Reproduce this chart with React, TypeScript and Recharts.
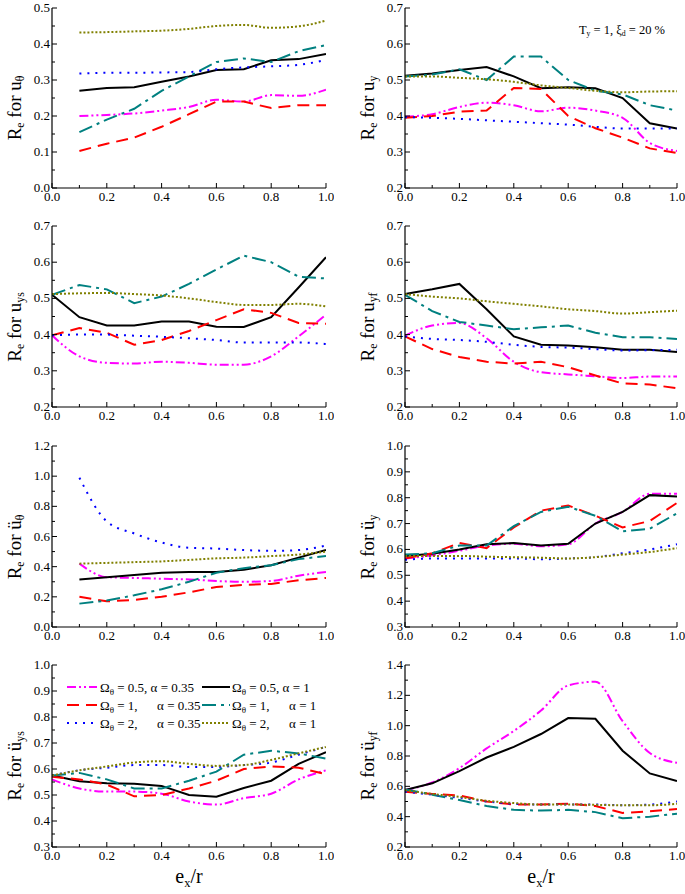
import React from 'react';
import { LineChart, Line, XAxis, YAxis } from 'recharts';

// ---------- x values ----------
const X_FULL = [0, 0.1, 0.2, 0.3, 0.4, 0.5, 0.6, 0.7, 0.8, 0.9, 1.0];
const X_FROM_01 = [0.1, 0.2, 0.3, 0.4, 0.5, 0.6, 0.7, 0.8, 0.9, 1.0];
const X_TICKS = [0, 0.1, 0.2, 0.3, 0.4, 0.5, 0.6, 0.7, 0.8, 0.9, 1.0];

// series order: [Ω=0.5 α=0.35, Ω=0.5 α=1, Ω=1 α=0.35, Ω=1 α=1, Ω=2 α=0.35, Ω=2 α=1]
// ---------- Panel 1: R_e for u_θ ----------
const uTh_m = [0.2, 0.203, 0.207, 0.215, 0.225, 0.245, 0.24, 0.258, 0.256, 0.273];
const uTh_k = [0.27, 0.278, 0.28, 0.295, 0.31, 0.328, 0.33, 0.355, 0.358, 0.372];
const uTh_r = [0.103, 0.123, 0.14, 0.17, 0.205, 0.24, 0.24, 0.222, 0.23, 0.23];
const uTh_t = [0.155, 0.19, 0.22, 0.27, 0.31, 0.35, 0.36, 0.35, 0.38, 0.397];
const uTh_b = [0.318, 0.32, 0.32, 0.321, 0.322, 0.33, 0.335, 0.338, 0.342, 0.356];
const uTh_o = [0.432, 0.433, 0.435, 0.437, 0.442, 0.45, 0.453, 0.445, 0.449, 0.465];

// ---------- Panel 2: R_e for u_y ----------
const uY_m = [0.398, 0.405, 0.425, 0.437, 0.43, 0.413, 0.423, 0.415, 0.395, 0.325, 0.303];
const uY_k = [0.512, 0.518, 0.528, 0.536, 0.51, 0.477, 0.48, 0.477, 0.45, 0.38, 0.365];
const uY_r = [0.395, 0.4, 0.412, 0.415, 0.478, 0.475, 0.4, 0.366, 0.34, 0.31, 0.297];
const uY_t = [0.51, 0.515, 0.53, 0.5, 0.565, 0.565, 0.5, 0.47, 0.46, 0.43, 0.415];
const uY_b = [0.397, 0.395, 0.392, 0.388, 0.384, 0.38, 0.376, 0.37, 0.365, 0.365, 0.365];
const uY_o = [0.51, 0.51, 0.506, 0.502, 0.495, 0.485, 0.478, 0.47, 0.466, 0.468, 0.469];

// ---------- Panel 3: R_e for u_ys ----------
const uYs_m = [0.398, 0.34, 0.322, 0.32, 0.325, 0.322, 0.317, 0.317, 0.34, 0.395, 0.455];
const uYs_k = [0.51, 0.448, 0.425, 0.425, 0.436, 0.436, 0.422, 0.421, 0.448, 0.53, 0.614];
const uYs_r = [0.398, 0.418, 0.405, 0.372, 0.385, 0.41, 0.44, 0.47, 0.46, 0.432, 0.43];
const uYs_t = [0.51, 0.537, 0.525, 0.487, 0.505, 0.54, 0.58, 0.618, 0.6, 0.56, 0.555];
const uYs_b = [0.398, 0.4, 0.4, 0.397, 0.394, 0.39, 0.385, 0.378, 0.378, 0.378, 0.374];
const uYs_o = [0.512, 0.514, 0.515, 0.512, 0.508, 0.5, 0.49, 0.482, 0.482, 0.485, 0.478];

// ---------- Panel 4: R_e for u_yf ----------
const uYf_m = [0.397, 0.425, 0.432, 0.39, 0.325, 0.296, 0.29, 0.285, 0.28, 0.284, 0.284];
const uYf_k = [0.512, 0.525, 0.54, 0.47, 0.395, 0.372, 0.37, 0.365, 0.358, 0.358, 0.352];
const uYf_r = [0.395, 0.36, 0.338, 0.325, 0.32, 0.325, 0.31, 0.287, 0.265, 0.262, 0.252];
const uYf_t = [0.51, 0.465, 0.435, 0.425, 0.415, 0.42, 0.425, 0.405, 0.393, 0.393, 0.388];
const uYf_b = [0.395, 0.388, 0.385, 0.38, 0.372, 0.366, 0.364, 0.36, 0.356, 0.357, 0.358];
const uYf_o = [0.512, 0.505, 0.5, 0.492, 0.485, 0.478, 0.47, 0.465, 0.458, 0.462, 0.466];

// ---------- Panel 5: R_e for ü_θ ----------
const aTh_m = [0.42, 0.33, 0.325, 0.32, 0.315, 0.305, 0.3, 0.305, 0.34, 0.365];
const aTh_k = [0.315, 0.33, 0.345, 0.36, 0.365, 0.365, 0.38, 0.41, 0.46, 0.51];
const aTh_r = [0.2, 0.17, 0.18, 0.2, 0.23, 0.265, 0.28, 0.285, 0.31, 0.325];
const aTh_t = [0.155, 0.175, 0.21, 0.25, 0.3, 0.36, 0.39, 0.41, 0.45, 0.47];
const aTh_b = [0.99, 0.7, 0.62, 0.56, 0.525, 0.52, 0.51, 0.505, 0.51, 0.54];
const aTh_o = [0.42, 0.425, 0.43, 0.435, 0.445, 0.455, 0.46, 0.47, 0.48, 0.5];

// ---------- Panel 6: R_e for ü_y ----------
const aY_m = [0.565, 0.577, 0.595, 0.615, 0.622, 0.612, 0.62, 0.7, 0.745, 0.815, 0.815];
const aY_k = [0.575, 0.583, 0.6, 0.62, 0.625, 0.615, 0.622, 0.7, 0.745, 0.81, 0.805];
const aY_r = [0.565, 0.585, 0.625, 0.605, 0.685, 0.75, 0.77, 0.73, 0.685, 0.71, 0.78];
const aY_t = [0.58, 0.585, 0.615, 0.615, 0.69, 0.745, 0.765, 0.73, 0.67, 0.68, 0.74];
const aY_b = [0.56, 0.565, 0.565, 0.565, 0.565, 0.562, 0.565, 0.57, 0.585, 0.6, 0.62];
const aY_o = [0.575, 0.575, 0.575, 0.572, 0.57, 0.568, 0.565, 0.57, 0.58, 0.59, 0.605];

// ---------- Panel 7: R_e for ü_ys ----------
const aYs_m = [0.56, 0.525, 0.513, 0.513, 0.505, 0.475, 0.463, 0.488, 0.505, 0.56, 0.595];
const aYs_k = [0.575, 0.553, 0.545, 0.543, 0.535, 0.5, 0.493, 0.527, 0.555, 0.62, 0.665];
const aYs_r = [0.57, 0.56, 0.54, 0.495, 0.5, 0.525, 0.555, 0.6, 0.61, 0.605, 0.58];
const aYs_t = [0.575, 0.585, 0.56, 0.525, 0.525, 0.555, 0.59, 0.655, 0.67, 0.66, 0.64];
const aYs_b = [0.575, 0.595, 0.605, 0.615, 0.615, 0.608, 0.608, 0.615, 0.625, 0.655, 0.685];
const aYs_o = [0.575, 0.595, 0.61, 0.625, 0.63, 0.62, 0.612, 0.615, 0.635, 0.66, 0.685];

// ---------- Panel 8: R_e for ü_yf ----------
const aYf_m = [0.575, 0.625, 0.72, 0.85, 0.965, 1.1, 1.265, 1.29, 1.03, 0.82, 0.755];
const aYf_k = [0.575, 0.62, 0.7, 0.79, 0.86, 0.945, 1.05, 1.045, 0.835, 0.685, 0.635];
const aYf_r = [0.565, 0.55, 0.54, 0.5, 0.48, 0.48, 0.485, 0.47, 0.425, 0.435, 0.45];
const aYf_t = [0.58, 0.545, 0.51, 0.47, 0.445, 0.44, 0.445, 0.43, 0.39, 0.4, 0.42];
const aYf_b = [0.565, 0.545, 0.525, 0.5, 0.485, 0.48, 0.48, 0.48, 0.475, 0.48, 0.5];
const aYf_o = [0.575, 0.55, 0.53, 0.505, 0.49, 0.48, 0.48, 0.478, 0.475, 0.475, 0.485];

// ---------- y tick lists ----------
const Y_TICKS_0_05 = [0, 0.05, 0.1, 0.15, 0.2, 0.25, 0.3, 0.35, 0.4, 0.45, 0.5];
const Y_TICKS_02_07 = [0.2, 0.25, 0.3, 0.35, 0.4, 0.45, 0.5, 0.55, 0.6, 0.65, 0.7];
const Y_TICKS_0_12 = [0, 0.1, 0.2, 0.3, 0.4, 0.5, 0.6, 0.7, 0.8, 0.9, 1.0, 1.1, 1.2];
const Y_TICKS_03_10 = [0.3, 0.35, 0.4, 0.45, 0.5, 0.55, 0.6, 0.65, 0.7, 0.75, 0.8, 0.85, 0.9, 0.95, 1.0];
const Y_TICKS_02_14 = [0.2, 0.3, 0.4, 0.5, 0.6, 0.7, 0.8, 0.9, 1.0, 1.1, 1.2, 1.3, 1.4];

const FONT = '"Liberation Serif", "DejaVu Serif", serif';

const SERIES = [
  { key: 'm', color: '#ff00ff', dash: '9 3 2 3 2 3', curve: 'monotone', omega: '0.5', alpha: '0.35' },
  { key: 'k', color: '#000000', dash: undefined, curve: 'linear', omega: '0.5', alpha: '1' },
  { key: 'r', color: '#ff0000', dash: '12 7', curve: 'linear', omega: '1', alpha: '0.35' },
  { key: 't', color: '#008080', dash: '14 5 3 5', curve: 'linear', omega: '1', alpha: '1' },
  { key: 'b', color: '#0000ff', dash: '2 6', curve: 'monotone', omega: '2', alpha: '0.35' },
  { key: 'o', color: '#808000', dash: '2 2', curve: 'monotone', omega: '2', alpha: '1' },
];

const near = (a: number, b: number) => Math.abs(a - b) < 1e-6;
const TEXT_STYLE = { fontFamily: FONT, fontSize: 13 };

function makeTick(dir: 'bottom' | 'top' | 'left' | 'right', majorStep: number, base: number) {
  return (props: any) => {
    const { x, y, payload } = props;
    const v = payload.value as number;
    const k = (v - base) / majorStep;
    const major = near(k, Math.round(k));
    const len = major ? 5 : 3;
    let line;
    if (dir === 'bottom') line = <line x1={x} x2={x} y1={y} y2={y - len} stroke="#000" strokeWidth={1} />;
    else if (dir === 'top') line = <line x1={x} x2={x} y1={y} y2={y + len} stroke="#000" strokeWidth={1} />;
    else if (dir === 'left') line = <line x1={x} x2={x + len} y1={y} y2={y} stroke="#000" strokeWidth={1} />;
    else line = <line x1={x} x2={x - len} y1={y} y2={y} stroke="#000" strokeWidth={1} />;
    let label = null;
    if (major && dir === 'bottom')
      label = (
        <text x={x} y={y + 13} textAnchor="middle" style={TEXT_STYLE} fill="#000">
          {v.toFixed(1)}
        </text>
      );
    if (major && dir === 'left')
      label = (
        <text x={x - 2} y={y + 4} textAnchor="end" style={TEXT_STYLE} fill="#000">
          {v.toFixed(1)}
        </text>
      );
    return (
      <g>
        {line}
        {label}
      </g>
    );
  };
}

type PanelProps = {
  left: number;
  top: number;
  w: number;
  h: number;
  xs: number[];
  series: number[][];
  yDomain: [number, number];
  yTicks: number[];
  yMajor: number;
  label: React.ReactNode;
};

function Panel({ left, top, w, h, xs, series, yDomain, yTicks, yMajor, label }: PanelProps) {
  const data = xs.map((xv, i) => {
    const row: any = { x: xv };
    SERIES.forEach((s, j) => {
      row[s.key] = series[j][i];
    });
    return row;
  });
  const ML = 45;
  const MT = 8;
  const MR = 8;
  const MB = 24;
  const axisStroke = { stroke: '#000', strokeWidth: 1.2 };
  return (
    <>
      <div style={{ position: 'absolute', left: left - ML, top: top - MT }}>
        <LineChart
          width={w + ML + MR}
          height={h + MT + MB}
          data={data}
          margin={{ top: MT, right: MR, left: 0, bottom: 0 }}
        >
          <XAxis
            xAxisId="b"
            dataKey="x"
            type="number"
            domain={[0, 1]}
            ticks={X_TICKS}
            interval={0}
            allowDataOverflow
            height={MB}
            tickLine={false}
            tickSize={0}
            tickMargin={0}
            axisLine={axisStroke}
            tick={makeTick('bottom', 0.2, 0)}
          />
          <XAxis
            xAxisId="t"
            orientation="top"
            dataKey="x"
            type="number"
            domain={[0, 1]}
            ticks={X_TICKS}
            interval={0}
            allowDataOverflow
            height={0}
            tickLine={false}
            tickSize={0}
            tickMargin={0}
            axisLine={axisStroke}
            tick={makeTick('top', 0.2, 0)}
          />
          <YAxis
            yAxisId="l"
            type="number"
            domain={yDomain}
            ticks={yTicks}
            interval={0}
            allowDataOverflow
            width={ML}
            tickLine={false}
            tickSize={0}
            tickMargin={0}
            axisLine={axisStroke}
            tick={makeTick('left', yMajor, yDomain[0])}
          />
          <YAxis
            yAxisId="r"
            orientation="right"
            type="number"
            domain={yDomain}
            ticks={yTicks}
            interval={0}
            allowDataOverflow
            width={0}
            tickLine={false}
            tickSize={0}
            tickMargin={0}
            axisLine={axisStroke}
            tick={makeTick('right', yMajor, yDomain[0])}
          />
          {SERIES.map((s) => (
            <Line
              key={s.key}
              xAxisId="b"
              yAxisId="l"
              dataKey={s.key}
              type={s.curve as any}
              stroke={s.color}
              strokeWidth={2}
              strokeDasharray={s.dash}
              dot={false}
              activeDot={false}
              isAnimationActive={false}
            />
          ))}
        </LineChart>
      </div>
      <div
        style={{
          position: 'absolute',
          left: left - 36,
          top: top + h / 2 + 10,
          transform: 'translate(-50%, -50%) rotate(-90deg)',
          whiteSpace: 'nowrap',
          fontFamily: FONT,
          fontSize: 19,
          lineHeight: 1,
        }}
      >
        {label}
      </div>
    </>
  );
}

const sub = (t: string) => <sub style={{ fontSize: '0.62em', verticalAlign: '-0.3em' }}>{t}</sub>;

function LegendBox({ left, top }: { left: number; top: number }) {
  const rowH = 18;
  const cols = [
    { sx1: 15, sx2: 45, tx: 48 },
    { sx1: 150, sx2: 178, tx: 180 },
  ];
  const order = [
    [0, 1],
    [2, 3],
    [4, 5],
  ];
  return (
    <svg style={{ position: 'absolute', left, top, overflow: 'visible' }} width={270} height={60}>
      {order.map((row, ri) =>
        row.map((si, ci) => {
          const s = SERIES[si];
          const c = cols[ci];
          const y = 8 + ri * rowH;
          const pad = s.omega === '0.5' ? '' : '   ';
          const aPad = s.omega === '0.5' ? ' ' : '   ';
          return (
            <g key={`${ri}-${ci}`}>
              <line x1={c.sx1} x2={c.sx2} y1={y} y2={y} stroke={s.color} strokeWidth={2} strokeDasharray={s.dash} />
              <text x={c.tx} y={y + 4.5} fill="#000" style={{ whiteSpace: 'pre', fontFamily: FONT, fontSize: 13 }}>
                Ω
                <tspan dy={3} style={{ fontSize: 9 }}>θ</tspan>
                <tspan dy={-3}>{` = ${s.omega},${pad}${aPad}α = ${s.alpha}`}</tspan>
              </text>
            </g>
          );
        })
      )}
    </svg>
  );
}

export default function App() {
  const LX = 52;
  const RX = 405;
  const LW = 274;
  const RW = 272;
  return (
    <div
      style={{
        position: 'absolute',
        left: 0,
        top: 0,
        width: 685,
        height: 894,
        background: '#fff',
        fontFamily: FONT,
        overflow: 'hidden',
      }}
    >
      <Panel left={LX} top={8} w={LW} h={180} xs={X_FROM_01}
        series={[uTh_m, uTh_k, uTh_r, uTh_t, uTh_b, uTh_o]}
        yDomain={[0, 0.5]} yTicks={Y_TICKS_0_05} yMajor={0.1}
        label={<>R{sub('e')} for u{sub('θ')}</>} />
      <Panel left={RX} top={8} w={RW} h={180} xs={X_FULL}
        series={[uY_m, uY_k, uY_r, uY_t, uY_b, uY_o]}
        yDomain={[0.2, 0.7]} yTicks={Y_TICKS_02_07} yMajor={0.1}
        label={<>R{sub('e')} for u{sub('y')}</>} />
      <Panel left={LX} top={226} w={LW} h={181} xs={X_FULL}
        series={[uYs_m, uYs_k, uYs_r, uYs_t, uYs_b, uYs_o]}
        yDomain={[0.2, 0.7]} yTicks={Y_TICKS_02_07} yMajor={0.1}
        label={<>R{sub('e')} for u{sub('ys')}</>} />
      <Panel left={RX} top={226} w={RW} h={181} xs={X_FULL}
        series={[uYf_m, uYf_k, uYf_r, uYf_t, uYf_b, uYf_o]}
        yDomain={[0.2, 0.7]} yTicks={Y_TICKS_02_07} yMajor={0.1}
        label={<>R{sub('e')} for u{sub('yf')}</>} />
      <Panel left={LX} top={446} w={LW} h={181} xs={X_FROM_01}
        series={[aTh_m, aTh_k, aTh_r, aTh_t, aTh_b, aTh_o]}
        yDomain={[0, 1.2]} yTicks={Y_TICKS_0_12} yMajor={0.2}
        label={<>R{sub('e')} for ü{sub('θ')}</>} />
      <Panel left={RX} top={446} w={RW} h={181} xs={X_FULL}
        series={[aY_m, aY_k, aY_r, aY_t, aY_b, aY_o]}
        yDomain={[0.3, 1.0]} yTicks={Y_TICKS_03_10} yMajor={0.1}
        label={<>R{sub('e')} for ü{sub('y')}</>} />
      <Panel left={LX} top={665} w={LW} h={182} xs={X_FULL}
        series={[aYs_m, aYs_k, aYs_r, aYs_t, aYs_b, aYs_o]}
        yDomain={[0.3, 1.0]} yTicks={Y_TICKS_03_10} yMajor={0.1}
        label={<>R{sub('e')} for ü{sub('ys')}</>} />
      <Panel left={RX} top={665} w={RW} h={182} xs={X_FULL}
        series={[aYf_m, aYf_k, aYf_r, aYf_t, aYf_b, aYf_o]}
        yDomain={[0.2, 1.4]} yTicks={Y_TICKS_02_14} yMajor={0.2}
        label={<>R{sub('e')} for ü{sub('yf')}</>} />

      <LegendBox left={LX} top={679} />

      <div style={{ position: 'absolute', right: 20, top: 23, fontSize: 12.5, whiteSpace: 'nowrap', fontFamily: FONT }}>
        T{sub('y')} = 1, ξ{sub('d')} = 20 %
      </div>

      <div style={{ position: 'absolute', left: LX + LW / 2, top: 878, transform: 'translate(-50%, -50%)', fontSize: 20, fontFamily: FONT, whiteSpace: 'nowrap' }}>
        e{sub('x')}/r
      </div>
      <div style={{ position: 'absolute', left: RX + RW / 2, top: 878, transform: 'translate(-50%, -50%)', fontSize: 20, fontFamily: FONT, whiteSpace: 'nowrap' }}>
        e{sub('x')}/r
      </div>
    </div>
  );
}
